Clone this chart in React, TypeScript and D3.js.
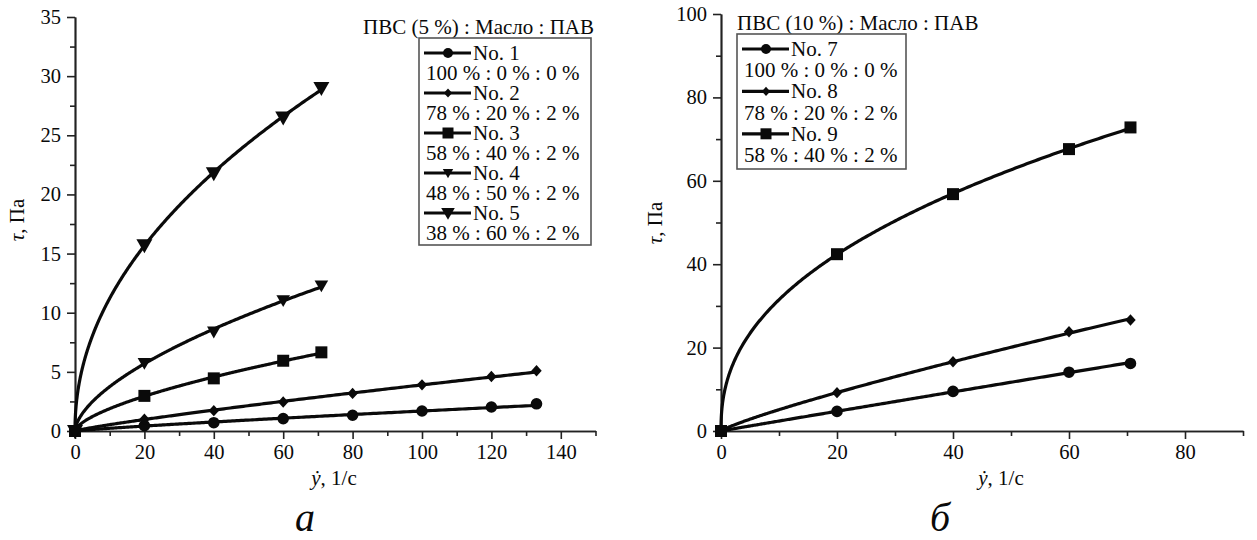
import React, { useEffect, useRef } from "react";
import * as d3 from "d3";

// panel a: PVA 5 %
const shearA1 = [0, 20, 40, 60, 80, 100, 120, 133];
const tauNo1 = [0, 0.45, 0.7, 1.05, 1.33, 1.69, 2.03, 2.3];
const tauNo2 = [0, 1.0, 1.72, 2.45, 3.18, 3.9, 4.6, 5.1];
const shearA2 = [0, 20, 40, 60, 71];
const tauNo3 = [0, 2.97, 4.45, 5.94, 6.65];
const tauNo4 = [0, 5.75, 8.4, 11.05, 12.3];
const tauNo5 = [0, 15.7, 21.8, 26.5, 29.0];

// panel b: PVA 10 %
const shearB = [0, 20, 40, 60, 70.6];
const tauNo7 = [0, 4.7, 9.5, 14.1, 16.2];
const tauNo8 = [0, 9.2, 16.6, 23.8, 26.6];
const tauNo9 = [0, 42.4, 56.8, 67.6, 72.8];

const namesA = ["No. 1", "No. 2", "No. 3", "No. 4", "No. 5"];
const ratiosA = ["100 % : 0 % : 0 %", "78 % : 20 % : 2 %", "58 % : 40 % : 2 %", "48 % : 50 % : 2 %", "38 % : 60 % : 2 %"];
const namesB = ["No. 7", "No. 8", "No. 9"];
const ratiosB = ["100 % : 0 % : 0 %", "78 % : 20 % : 2 %", "58 % : 40 % : 2 %"];

const xTicksA = [0, 20, 40, 60, 80, 100, 120, 140];
const yTicksA = [0, 5, 10, 15, 20, 25, 30, 35];
const xTicksB = [0, 20, 40, 60, 80];
const yTicksB = [0, 20, 40, 60, 80, 100];

const FONT = "Liberation Serif, Tinos, Times New Roman, DejaVu Serif, serif";
const INK = "#0a0a0a";

function markerPath(kind, s) {
  if (kind === "circle") return d3.symbol(d3.symbolCircle, Math.PI * s * s)();
  if (kind === "square") return `M${-s},${-s}h${2 * s}v${2 * s}h${-2 * s}Z`;
  if (kind === "diamond") return `M0,${-s * 1.1}L${s},0L0,${s * 1.1}L${-s},0Z`;
  // triangle pointing down
  return `M${-s},${-s * 0.75}L${s},${-s * 0.75}L0,${s}Z`;
}

// Ostwald power-law fit tau = K * rate^n, like the fitted lines of the original
function powerFit(xs, ys) {
  const pts = xs.map((x, i) => [x, ys[i]]).filter(p => p[0] > 0 && p[1] > 0);
  const lx = pts.map(p => Math.log(p[0]));
  const ly = pts.map(p => Math.log(p[1]));
  const mx = d3.mean(lx), my = d3.mean(ly);
  const n = d3.sum(lx.map((v, i) => (v - mx) * (ly[i] - my))) / d3.sum(lx.map(v => (v - mx) ** 2));
  const k = Math.exp(my - n * mx);
  return x => k * Math.pow(x, n);
}

function txt(sel, size) {
  return sel.style("font-family", FONT).style("font-size", `${size}px`).attr("fill", INK);
}

function drawPanel(svg, cfg) {
  const { xScale, yScale, series } = cfg;
  const g = svg.append("g");

  // axes: minor ticks first, then labelled major ticks
  const xAxis = g.append("g").attr("transform", `translate(0,${yScale(0)})`);
  xAxis.call(d3.axisBottom(xScale).tickValues(cfg.xMinor).tickSize(5).tickSizeOuter(0).tickFormat(() => ""));
  xAxis.append("g").call(d3.axisBottom(xScale).tickValues(cfg.xTicks).tickSize(8).tickSizeOuter(0).tickPadding(5));
  const yAxis = g.append("g").attr("transform", `translate(${xScale(0)},0)`);
  yAxis.call(d3.axisLeft(yScale).tickValues(cfg.yMinor).tickSize(5).tickSizeOuter(0).tickFormat(() => ""));
  yAxis.append("g").call(d3.axisLeft(yScale).tickValues(cfg.yTicks).tickSize(8).tickSizeOuter(0).tickPadding(6));
  g.selectAll(".domain").attr("stroke", "#222").attr("stroke-width", 1.7);
  g.selectAll(".tick line").attr("stroke", "#222").attr("stroke-width", 1.6);
  txt(g.selectAll(".tick text"), 20.5);

  // fitted curves
  const line = d3.line().x(d => xScale(d[0])).y(d => yScale(d[1]));
  series.forEach(s => {
    const f = powerFit(s.x, s.y);
    const xmax = d3.max(s.x);
    const pts = d3.range(0, 1.0001, 0.004).map(t => [xmax * t * t, f(xmax * t * t)]);
    g.append("path").attr("d", line(pts)).attr("fill", "none").attr("stroke", INK).attr("stroke-width", 3.2);
  });
  // markers
  series.forEach(s => {
    g.selectAll(null).data(s.x.map((x, i) => [x, s.y[i]])).enter().append("path")
      .attr("d", markerPath(s.marker, s.size))
      .attr("transform", d => `translate(${xScale(d[0])},${yScale(d[1])})`)
      .attr("fill", INK);
  });

  // legend
  const L = cfg.legend;
  txt(g.append("text"), 21).attr("x", L.titleX).attr("y", L.titleY).attr("text-anchor", L.titleAnchor).text(L.title);
  g.append("rect").attr("x", L.x).attr("y", L.y).attr("width", L.w).attr("height", L.h)
    .attr("fill", "white").attr("stroke", "#555").attr("stroke-width", 1.6);
  series.forEach((s, i) => {
    const cy = L.y + L.first + i * 2 * L.lh;
    const lg = g.append("g");
    lg.append("line").attr("x1", L.x + 5).attr("x2", L.x + 52).attr("y1", cy).attr("y2", cy)
      .attr("stroke", INK).attr("stroke-width", 3.2);
    lg.append("path").attr("d", markerPath(s.marker, s.legendSize))
      .attr("transform", `translate(${L.x + 29},${cy})`).attr("fill", INK);
    txt(lg.append("text"), 21).attr("x", L.x + 54).attr("y", cy + 7).text(s.name);
    txt(lg.append("text"), 21).attr("x", L.x + 7).attr("y", cy + L.lh + 7).text(s.ratio);
  });

  // axis titles
  const yt = txt(g.append("text"), 21).attr("transform", `translate(${cfg.yLabel[0]},${cfg.yLabel[1]}) rotate(-90)`)
    .attr("text-anchor", "middle");
  yt.append("tspan").style("font-style", "italic").text("τ");
  yt.append("tspan").text(", Па");
  const xt = txt(g.append("text"), 21).attr("x", cfg.xLabel[0]).attr("y", cfg.xLabel[1]).attr("text-anchor", "middle");
  xt.append("tspan").style("font-style", "italic").text("ẏ");
  xt.append("tspan").text(", 1/с");
  txt(g.append("text"), 40).attr("x", cfg.letter[0]).attr("y", cfg.letter[1]).attr("text-anchor", "middle")
    .style("font-style", "italic").text(cfg.letterText);
}

export default function App() {
  const svgRef = useRef(null);
  useEffect(() => {
    const svg = d3.select(svgRef.current);
    svg.selectAll("*").remove();

    const markers = ["circle", "diamond", "square", "tri", "tri"];
    const sizes = [5.8, 5.2, 6, 6.8, 8];
    const legendSizes = [5, 4.2, 5.5, 5.2, 6.8];

    const seriesA = [
      [shearA1, tauNo1], [shearA1, tauNo2], [shearA2, tauNo3], [shearA2, tauNo4], [shearA2, tauNo5]
    ].map((d, i) => ({ x: d[0], y: d[1], marker: markers[i], size: sizes[i], legendSize: legendSizes[i], name: namesA[i], ratio: ratiosA[i] }));
    const seriesB = [[shearB, tauNo7], [shearB, tauNo8], [shearB, tauNo9]]
      .map((d, i) => ({ x: d[0], y: d[1], marker: markers[i], size: sizes[i], legendSize: legendSizes[i], name: namesB[i], ratio: ratiosB[i] }));

    drawPanel(svg, {
      xScale: d3.scaleLinear().domain([0, 150]).range([75, 595.5]),
      yScale: d3.scaleLinear().domain([0, 35]).range([431, 17]),
      xTicks: xTicksA, xMinor: d3.range(10, 151, 20),
      yTicks: yTicksA, yMinor: d3.range(2.5, 35, 5),
      series: seriesA,
      legend: { title: "ПВС (5 %) : Масло : ПАВ", titleX: 594, titleY: 34, titleAnchor: "end", x: 419, y: 38, w: 172, h: 207, first: 15, lh: 20 },
      yLabel: [24, 220], xLabel: [334, 485], letter: [305, 531], letterText: "а"
    });
    drawPanel(svg, {
      xScale: d3.scaleLinear().domain([0, 90]).range([721, 1243]),
      yScale: d3.scaleLinear().domain([0, 100]).range([431, 14]),
      xTicks: xTicksB, xMinor: d3.range(10, 91, 20),
      yTicks: yTicksB, yMinor: d3.range(10, 100, 20),
      series: seriesB,
      legend: { title: "ПВС (10 %) : Масло : ПАВ", titleX: 737, titleY: 30, titleAnchor: "start", x: 737, y: 34, w: 169, h: 135, first: 15, lh: 21.2 },
      yLabel: [662, 223], xLabel: [1001, 485], letter: [940, 531], letterText: "б"
    });
  }, []);
  return (
    <svg ref={svgRef} width={1257} height={540}
      style={{ position: "absolute", left: 0, top: 0, background: "white" }} />
  );
}
